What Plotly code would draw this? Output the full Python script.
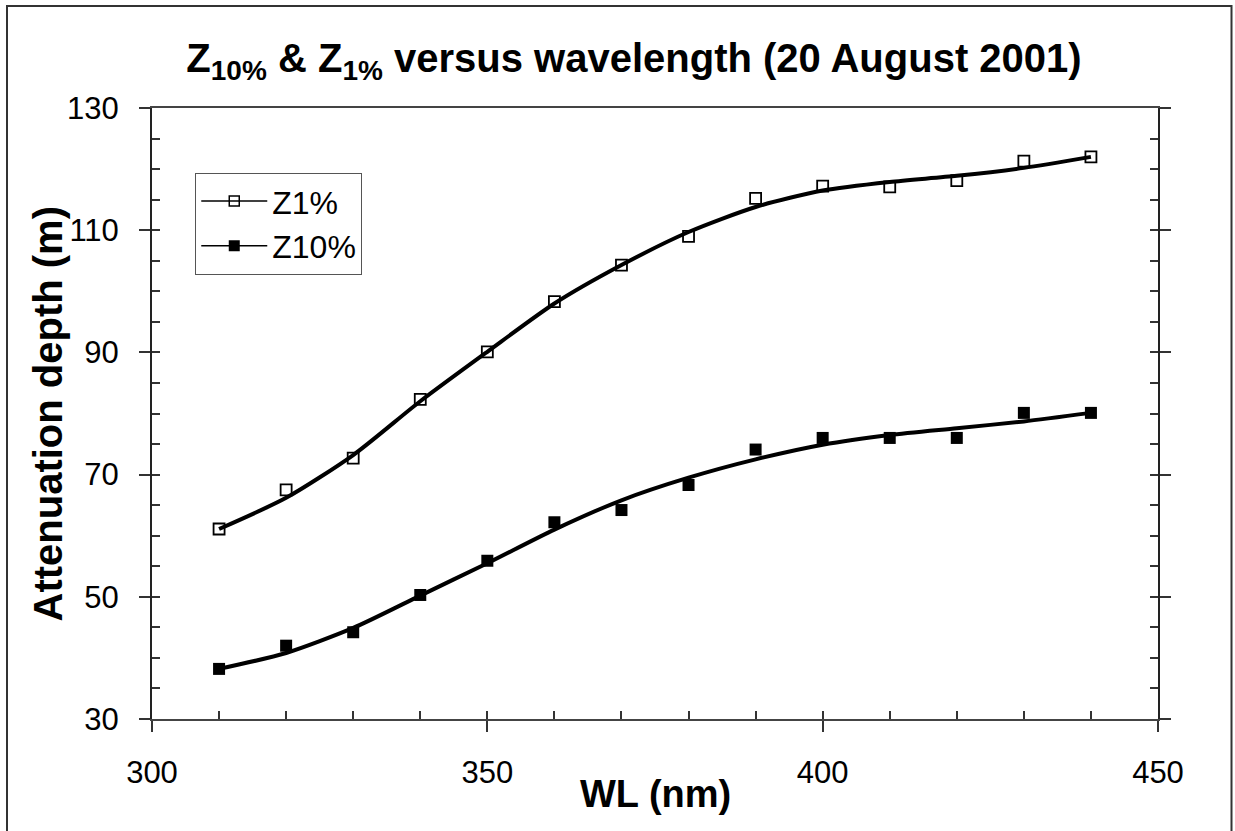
import plotly.graph_objects as go

# ---- data ----
wavelength = [310, 320, 330, 340, 350, 360, 370, 380, 390, 400, 410, 420, 430, 440]
z1_points = [61.1, 67.5, 72.7, 82.3, 90.1, 98.3, 104.3, 109.0, 115.2, 117.2, 117.1, 118.1, 121.3, 122.0]
z10_points = [38.2, 42.0, 44.2, 50.3, 55.9, 62.2, 64.2, 68.3, 74.1, 76.0, 76.0, 76.0, 80.1, 80.1]
z1_curve = [61.1, 66.2, 73.2, 82.0, 90.1, 98.0, 104.3, 109.7, 113.8, 116.5, 117.9, 118.9, 120.2, 122.0]
z10_curve = [38.2, 40.8, 44.9, 50.2, 55.5, 61.0, 65.8, 69.5, 72.5, 74.9, 76.5, 77.6, 78.7, 80.1]
series_names = ["Z1%", "Z10%"]
x_range = [300, 450]
y_range = [30, 130]
x_title = "WL (nm)"
y_title = "Attenuation depth (m)"

FONT = "Arial, Liberation Sans, sans-serif"

fig = go.Figure()

# smooth curves
fig.add_trace(go.Scatter(x=wavelength, y=z1_curve, mode="lines", line=dict(color="black", width=4, shape="spline", smoothing=0.7), showlegend=False, hoverinfo="skip"))
fig.add_trace(go.Scatter(x=wavelength, y=z10_curve, mode="lines", line=dict(color="black", width=4, shape="spline", smoothing=0.7), showlegend=False, hoverinfo="skip"))

# markers
fig.add_trace(go.Scatter(x=wavelength, y=z1_points, mode="markers", marker=dict(symbol="square-open", size=11, color="black", line=dict(width=1.8, color="black")), showlegend=False))
fig.add_trace(go.Scatter(x=wavelength, y=z10_points, mode="markers", marker=dict(symbol="square", size=12, color="black"), showlegend=False))

# legend entries (line + marker)
fig.add_trace(go.Scatter(x=[None], y=[None], name=series_names[0], mode="lines+markers", line=dict(color="black", width=1.5), marker=dict(symbol="square-open", size=10, color="black", line=dict(width=1.5, color="black")), xaxis="x2", yaxis="y2"))
fig.add_trace(go.Scatter(x=[None], y=[None], name=series_names[1], mode="lines+markers", line=dict(color="black", width=1.5), marker=dict(symbol="square", size=11, color="black"), xaxis="x2", yaxis="y2"))

fig.update_layout(
    width=1235, height=831,
    paper_bgcolor="white", plot_bgcolor="white",
    margin=dict(l=152, r=77, t=108, b=112),
    font=dict(family=FONT, color="black"),
    title=dict(
        text="<b>Z<sub>10%</sub> & Z<sub>1%</sub> versus wavelength (20 August 2001)</b>",
        font=dict(family=FONT, size=40, color="black"),
        x=634 / 1235, xref="container", xanchor="center",
        y=1 - 58 / 831, yref="container", yanchor="middle",
    ),
    xaxis=dict(
        range=x_range, dtick=50, tick0=300,
        showgrid=False, zeroline=False,
        showline=True, linecolor="#444", linewidth=2, mirror=True,
        ticks="outside", ticklen=11, tickwidth=1.5, tickcolor="#333",
        tickfont=dict(family=FONT, size=31, color="black"),
        ticklabelstandoff=14,
    ),
    yaxis=dict(
        range=y_range, dtick=20, tick0=30,
        showgrid=False, zeroline=False,
        showline=True, linecolor="#222", linewidth=2, mirror="ticks",
        ticks="outside", ticklen=11, tickwidth=1.5, tickcolor="#333",
        tickfont=dict(family=FONT, size=31, color="black"),
        ticklabelstandoff=14,
    ),
    xaxis2=dict(
        range=x_range, overlaying="x", anchor="y", side="bottom",
        dtick=10, tick0=300, ticks="inside", ticklen=8, tickwidth=1.5, tickcolor="#333",
        showticklabels=False, showgrid=False, zeroline=False, showline=False,
    ),
    yaxis2=dict(
        range=y_range, overlaying="y", anchor="x", side="left",
        dtick=5, tick0=30, ticks="inside", ticklen=8, tickwidth=1.5, tickcolor="#333",
        mirror="ticks", showline=True, linecolor="rgba(0,0,0,0)",
        showticklabels=False, showgrid=False, zeroline=False,
    ),
    legend=dict(
        x=0.043, y=0.894, xanchor="left", yanchor="top",
        bgcolor="white", bordercolor="#555", borderwidth=1,
        font=dict(family=FONT, size=32, color="black"),
        itemwidth=66, tracegroupgap=4,
    ),
    annotations=[
        dict(text="<b>" + x_title + "</b>", xref="paper", yref="paper",
             x=0.5, y=(719 - 794) / 611, xanchor="center", yanchor="middle",
             showarrow=False, font=dict(family=FONT, size=38, color="black")),
        dict(text="<b>" + y_title + "</b>", xref="paper", yref="paper",
             x=(47 - 152) / 1006, y=0.5, xanchor="center", yanchor="middle", textangle=-90,
             showarrow=False, font=dict(family=FONT, size=40, color="black")),
    ],
    shapes=[dict(
        type="rect", xref="paper", yref="paper",
        x0=(7 - 152) / 1006, x1=(1231.5 - 152) / 1006,
        y0=-0.25, y1=(719 - 6) / 611,
        line=dict(color="#333", width=2), fillcolor="rgba(0,0,0,0)", layer="below",
    )],
)

fig.write_html("out.html", config={"displayModeBar": False},
               post_script="document.body.style.margin='0';document.body.style.overflow='hidden';")
